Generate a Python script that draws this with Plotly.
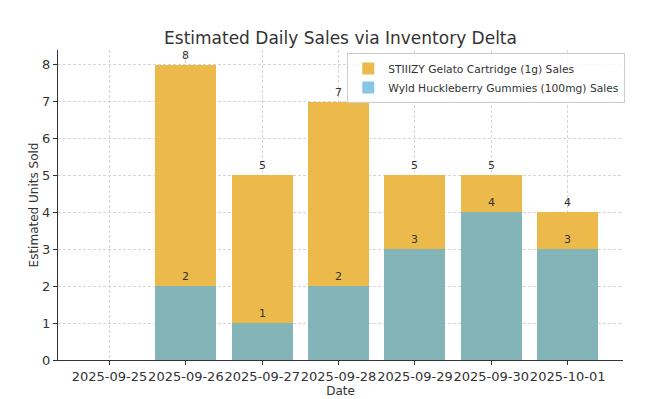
import plotly.graph_objects as go

dates = ["2025-09-25", "2025-09-26", "2025-09-27", "2025-09-28",
         "2025-09-29", "2025-09-30", "2025-10-01"]
stiizy_sales = [0, 8, 5, 7, 5, 5, 4]
wyld_sales = [0, 2, 1, 2, 3, 4, 3]
stiizy_name = "STIIIZY Gelato Cartridge (1g) Sales"
wyld_name = "Wyld Huckleberry Gummies (100mg) Sales"

FONT = "DejaVu Sans"
TXT = "#333333"

# page body has an 8px default margin, so the figure is drawn 8px smaller
W, H = 653, 391

def labels(vals):
    return [str(v) if v else "" for v in vals]

fig = go.Figure()
fig.add_trace(go.Bar(
    x=dates, y=stiizy_sales, name=stiizy_name, width=0.8,
    marker=dict(color="rgb(236,186,74)", line=dict(width=0)),
    text=labels(stiizy_sales), textposition="outside",
    textfont=dict(family=FONT, size=11, color=TXT), cliponaxis=False,
))
fig.add_trace(go.Bar(
    x=dates, y=wyld_sales, name=wyld_name, width=0.8,
    marker=dict(color="rgba(96,179,221,0.75)", line=dict(width=0)),
    text=labels(wyld_sales), textposition="outside",
    textfont=dict(family=FONT, size=11, color=TXT), cliponaxis=False,
))

fig.update_layout(
    width=W, height=H,
    barmode="overlay",
    paper_bgcolor="white", plot_bgcolor="white",
    margin=dict(l=50, r=38, t=42, b=39, autoexpand=False),
    font=dict(family=FONT, size=13, color=TXT),
    title=dict(text="Estimated Daily Sales via Inventory Delta",
               x=0.5, xanchor="center", xref="paper",
               y=1 - 30 / H, yanchor="middle", yref="container",
               font=dict(family=FONT, size=17, color=TXT)),
    showlegend=True,
    legend=dict(x=1.004, xanchor="right", y=0.99, yanchor="top",
                bgcolor="rgba(255,255,255,0.8)", bordercolor="#cccccc",
                borderwidth=1, font=dict(family=FONT, size=10.7, color=TXT),
                tracegroupgap=0),
    bargap=0,
)
fig.update_xaxes(
    type="category", range=[-0.675, 6.725], automargin=False,
    showline=True, linecolor="#333333", linewidth=1,
    ticks="outside", ticklen=4, tickcolor="#333333",
    showgrid=True, gridcolor="#d6d6d6", griddash="3px,2px", gridwidth=0.8,
    tickangle=0, tickfont=dict(family=FONT, size=13, color=TXT),
    title=dict(text="Date", standoff=0, font=dict(family=FONT, size=12, color=TXT)),
)
fig.update_yaxes(
    range=[0, 8.4], dtick=1, tick0=0, automargin=False,
    showline=True, linecolor="#333333", linewidth=1,
    ticks="outside", ticklen=4, tickcolor="#333333",
    showgrid=True, gridcolor="#d6d6d6", griddash="3px,2px", gridwidth=0.8,
    zeroline=False,
    tickfont=dict(family=FONT, size=13, color=TXT),
    title=dict(text="Estimated Units Sold", standoff=0, font=dict(family=FONT, size=12, color=TXT)),
)

fig.write_html("out.html")
